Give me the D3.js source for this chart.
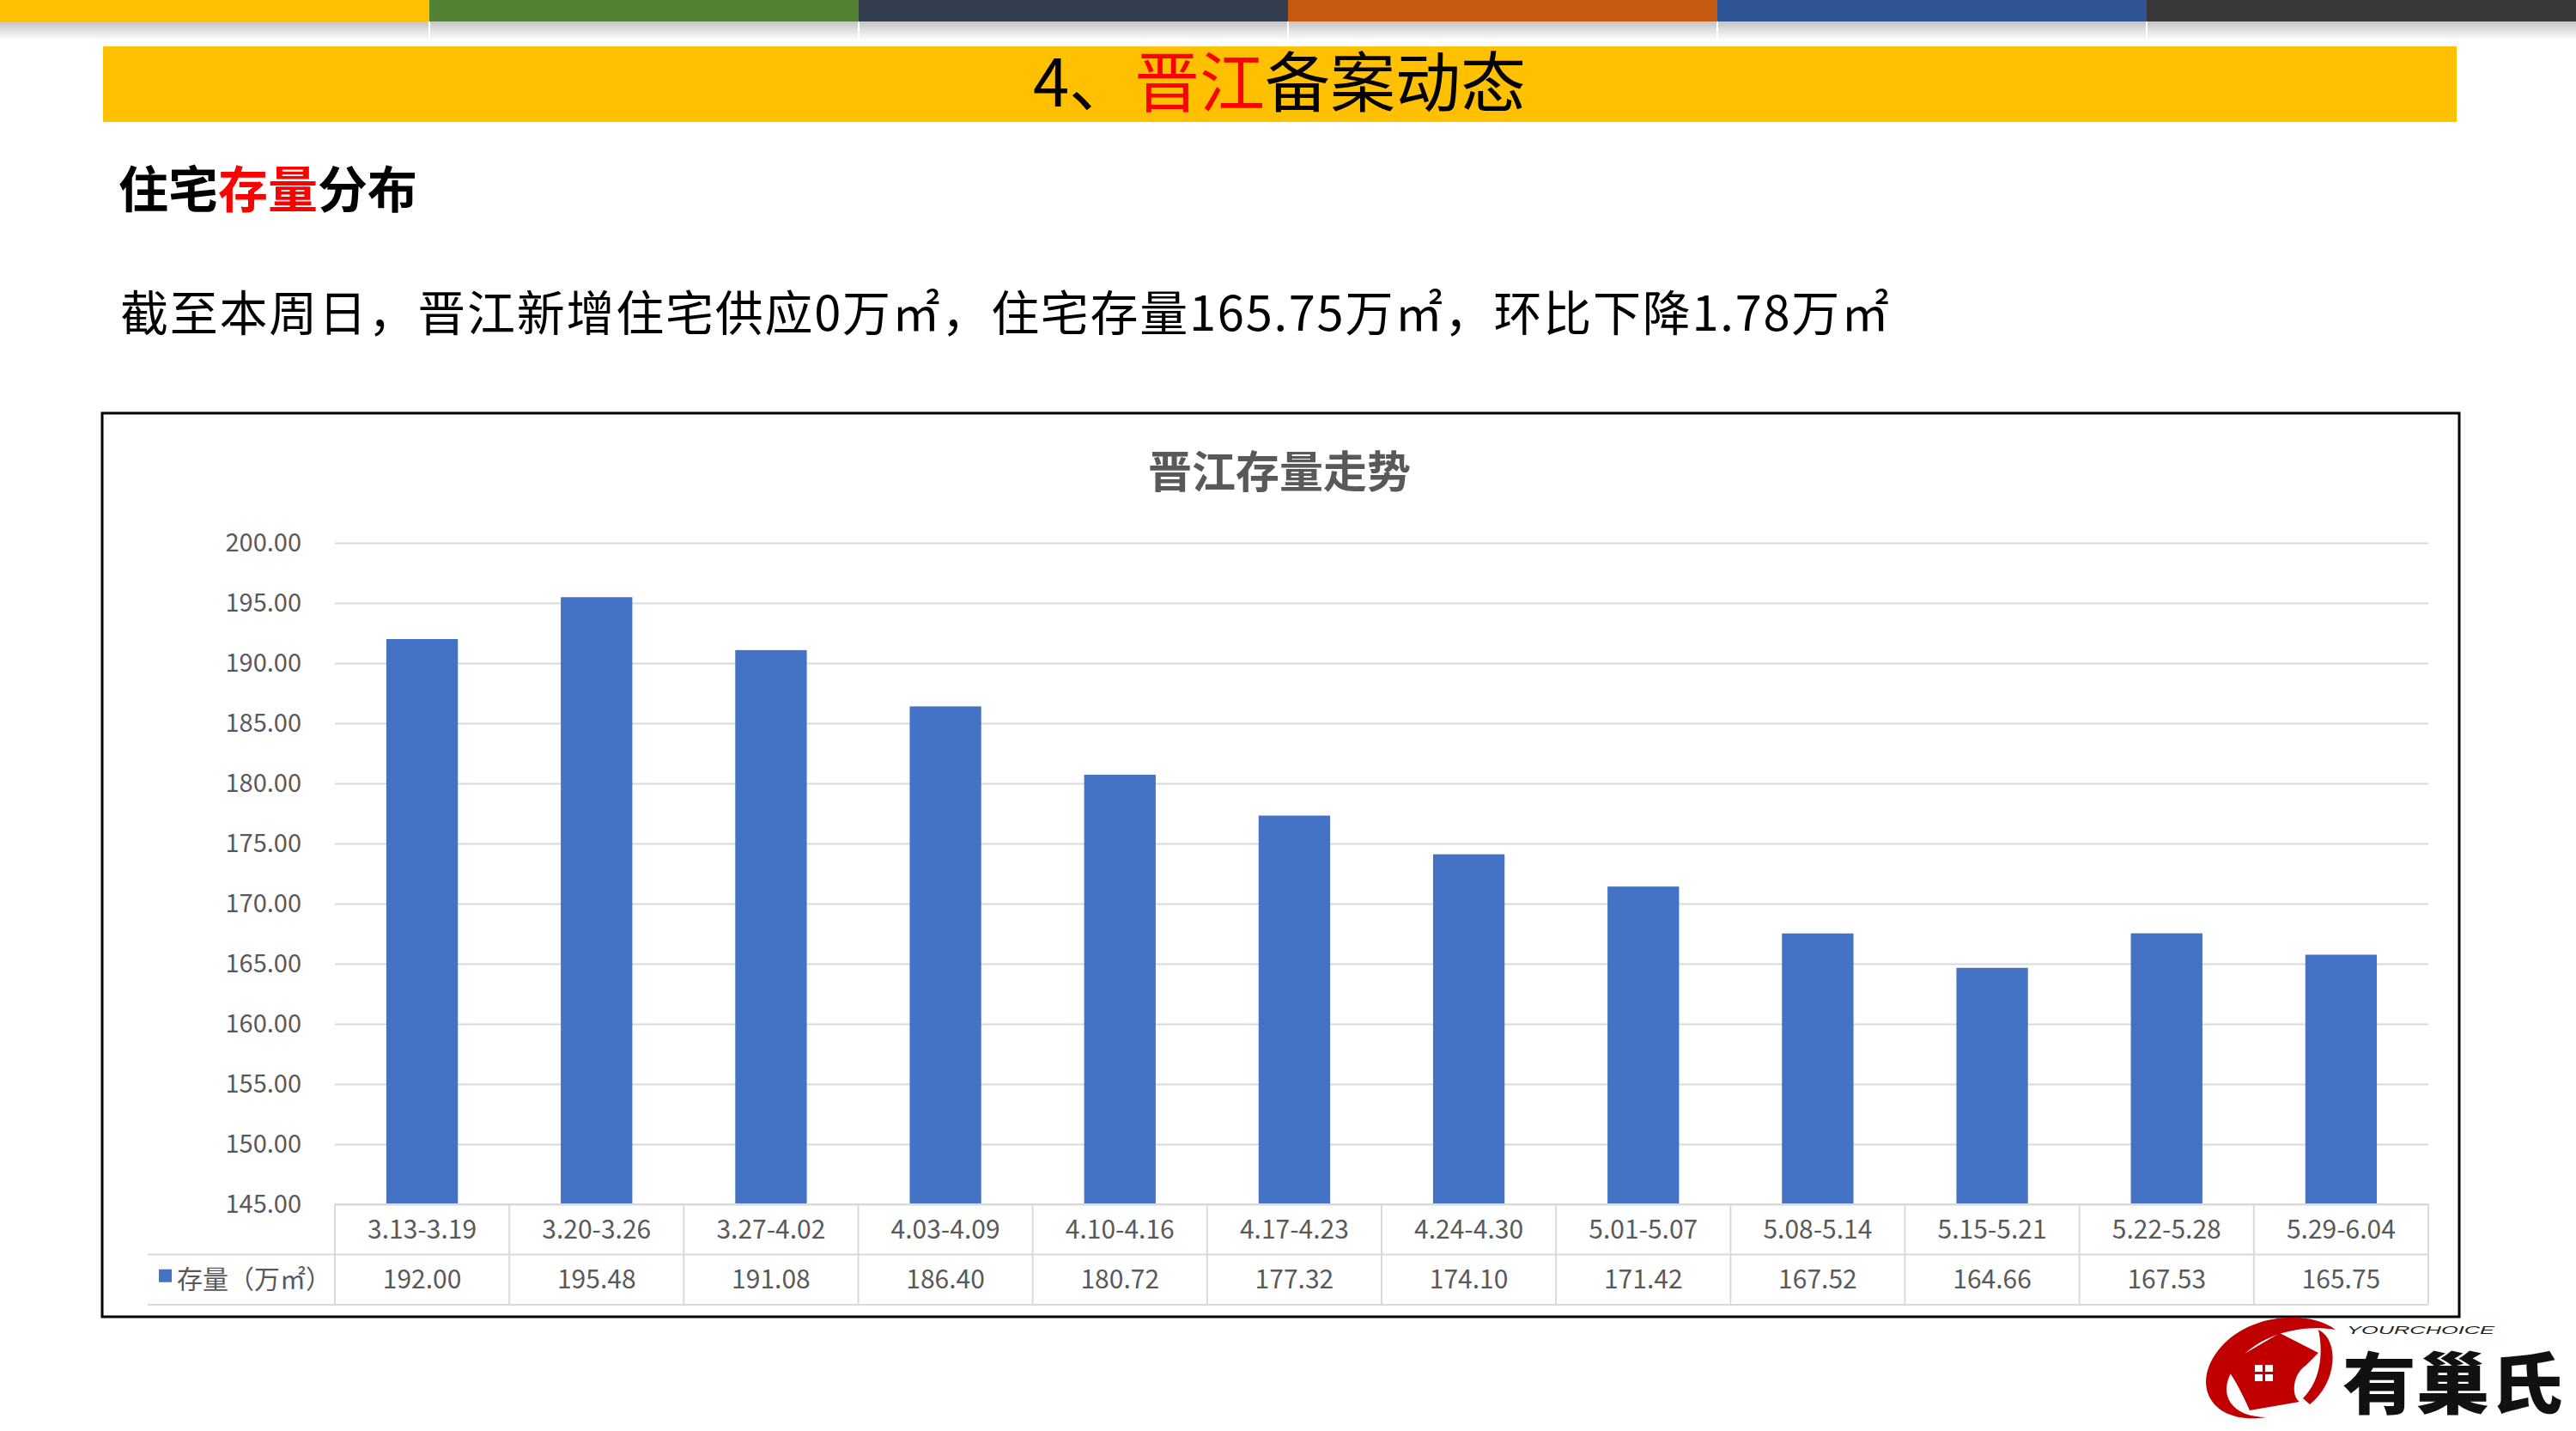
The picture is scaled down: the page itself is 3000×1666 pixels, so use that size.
<!DOCTYPE html>
<html><head><meta charset="utf-8">
<script src="https://cdn.jsdelivr.net/npm/d3@7/dist/d3.min.js"></script>
<style>
html,body{margin:0;padding:0;background:#fff;}
svg{display:block;font-family:"Noto Sans CJK SC","Noto Sans",sans-serif;}
</style></head>
<body>
<svg id="c" width="3000" height="1666"></svg>
<script>
const categories = ["3.13-3.19","3.20-3.26","3.27-4.02","4.03-4.09","4.10-4.16","4.17-4.23","4.24-4.30","5.01-5.07","5.08-5.14","5.15-5.21","5.22-5.28","5.29-6.04"];
const values = [192.00,195.48,191.08,186.40,180.72,177.32,174.10,171.42,167.52,164.66,167.53,165.75];
const yTicks = [145,150,155,160,165,170,175,180,185,190,195,200];
const seriesName = "存量（万㎡）";
const topColors = ["#FFC000","#548235","#333F50","#C55A11","#2F5597","#3A3838"];

(function(){
const svg = d3.select("#c");
const defs = svg.append("defs");
const g1 = defs.append("linearGradient").attr("id","sh").attr("x1",0).attr("y1",0).attr("x2",0).attr("y2",1);
g1.append("stop").attr("offset","0").attr("stop-color","#c4c4c4");
g1.append("stop").attr("offset","1").attr("stop-color","#ffffff");

// top colour strip
const segX = d3.scaleBand().domain(d3.range(topColors.length)).range([0,3000]);
svg.selectAll("rect.top").data(topColors).join("rect").attr("class","top")
  .attr("x",(d,i)=>segX(i)).attr("y",0).attr("width",segX.bandwidth()).attr("height",25).attr("fill",d=>d);
svg.append("rect").attr("x",0).attr("y",25).attr("width",3000).attr("height",22).attr("fill","url(#sh)");
svg.selectAll("line.sep").data(d3.range(1,topColors.length)).join("line").attr("class","sep")
  .attr("x1",i=>segX(i)).attr("x2",i=>segX(i)).attr("y1",25).attr("y2",47).attr("stroke","#fff").attr("stroke-width",2);

// banner
svg.append("rect").attr("x",120).attr("y",54).attr("width",2741).attr("height",88).attr("fill","#FFC000");
const t1 = svg.append("text").attr("x",1490).attr("y",124).attr("text-anchor","middle").attr("font-size",76);
t1.append("tspan").attr("fill","#000").text("4、");
t1.append("tspan").attr("fill","#FF0000").text("晋江");
t1.append("tspan").attr("fill","#000").text("备案动态");

// subtitle
const t2 = svg.append("text").attr("x",138).attr("y",242).attr("font-size",58).attr("font-weight","bold");
t2.append("tspan").attr("fill","#000").text("住宅");
t2.append("tspan").attr("fill","#FF0000").text("存量");
t2.append("tspan").attr("fill","#000").text("分布");

svg.append("text").attr("x",140).attr("y",385).attr("font-size",56).attr("fill","#000")
  .attr("textLength",2060).attr("lengthAdjust","spacing")
  .text("截至本周日，晋江新增住宅供应0万㎡，住宅存量165.75万㎡，环比下降1.78万㎡");

// chart frame
svg.append("rect").attr("x",119).attr("y",481).attr("width",2745).attr("height",1052)
  .attr("fill","#fff").attr("stroke","#000").attr("stroke-width",3);
svg.append("text").attr("x",1490).attr("y",568).attr("text-anchor","middle").attr("font-size",51)
  .attr("font-weight","bold").attr("fill","#595959").text("晋江存量走势");

const pL = 390, pR = 2828, pT = 632, pB = 1402;
const x = d3.scaleBand().domain(categories).range([pL,pR]).paddingInner(0.59).paddingOuter(0.295);
const xc = d3.scaleBand().domain(categories).range([pL,pR]);
const y = d3.scaleLinear().domain([d3.min(yTicks), d3.max(yTicks)]).range([pB, pT]);

const ya = svg.append("g").attr("transform",`translate(${pL},0)`)
  .call(d3.axisLeft(y).tickValues(yTicks).tickSize(-(pR-pL)).tickPadding(39).tickFormat(d3.format(".2f")));
ya.select(".domain").remove();
ya.selectAll(".tick line").attr("stroke","#D9D9D9").attr("stroke-width",2);
ya.selectAll(".tick text").attr("fill","#595959").attr("font-size",29).attr("font-family","\"Noto Sans CJK SC\",sans-serif");

svg.selectAll("rect.bar").data(values).join("rect").attr("class","bar")
  .attr("x",(d,i)=>x(categories[i])).attr("width",x.bandwidth())
  .attr("y",d=>y(d)).attr("height",d=>y(y.domain()[0])-y(d)).attr("fill","#4472C4");

// data table
const rowH = 58.5, r1 = pB, r2 = pB+rowH, r3 = pB+2*rowH, legL = 172;
const tbl = svg.append("g").attr("stroke","#D9D9D9").attr("stroke-width",2);
tbl.append("line").attr("x1",pL).attr("x2",pR).attr("y1",r1).attr("y2",r1);
tbl.append("line").attr("x1",legL).attr("x2",pR).attr("y1",r2).attr("y2",r2);
tbl.append("line").attr("x1",legL).attr("x2",pR).attr("y1",r3).attr("y2",r3);
const vx = categories.map(c=>xc(c)).concat([pR]);
tbl.selectAll("line.v").data(vx).join("line").attr("class","v")
  .attr("x1",d=>d).attr("x2",d=>d).attr("y1",r1).attr("y2",r3);

svg.selectAll("text.cat").data(categories).join("text").attr("class","cat")
  .attr("x",d=>xc(d)+xc.bandwidth()/2).attr("y",(r1+r2)/2).attr("dy","0.35em")
  .attr("text-anchor","middle").attr("font-size",30).attr("fill","#595959").text(d=>d);
svg.selectAll("text.val").data(values).join("text").attr("class","val")
  .attr("x",(d,i)=>xc(categories[i])+xc.bandwidth()/2).attr("y",(r2+r3)/2).attr("dy","0.35em")
  .attr("text-anchor","middle").attr("font-size",30).attr("fill","#595959").text(d=>d3.format(".2f")(d));
svg.append("rect").attr("x",185).attr("y",(r2+r3)/2-12).attr("width",15).attr("height",15).attr("fill","#4472C4");
svg.append("text").attr("x",206).attr("y",(r2+r3)/2).attr("dy","0.35em").attr("font-size",30)
  .attr("fill","#595959").text(seriesName);

// logo
const logo = svg.append("g");
logo.append("path").attr("fill","#C00000")
  .attr("d","M2720,1548 C2690,1525 2620,1528 2585,1570 C2550,1612 2575,1660 2640,1650 C2600,1650 2582,1625 2600,1595 C2618,1560 2670,1540 2720,1548 Z");
logo.append("path").attr("fill","#C00000")
  .attr("d","M2700,1548 C2725,1560 2722,1610 2690,1635 L2682,1628 C2705,1605 2705,1570 2700,1548 Z");
logo.append("path").attr("fill","#C00000")
  .attr("d","M2590,1590 L2655,1552 L2700,1575 L2685,1590 C2670,1600 2668,1625 2678,1632 L2620,1642 C2610,1620 2600,1600 2590,1590 Z");
const wx = 2626, wy = 1589;
[[0,0],[12,0],[0,11],[12,11]].forEach(p=>logo.append("rect").attr("x",wx+p[0]).attr("y",wy+p[1]).attr("width",9).attr("height",8).attr("fill","#fff"));
logo.append("text").attr("x",2733).attr("y",1553).attr("font-size",12).attr("font-style","italic")
  .attr("fill","#222").attr("textLength",172).attr("lengthAdjust","spacingAndGlyphs").attr("font-family","\"Liberation Sans\",sans-serif").text("YOURCHOICE");
logo.append("text").attr("x",2728).attr("y",1640).attr("font-size",78).attr("font-weight","900")
  .attr("fill","#111").attr("textLength",257).attr("lengthAdjust","spacingAndGlyphs").text("有巢氏");
})();
</script>
</body></html>
